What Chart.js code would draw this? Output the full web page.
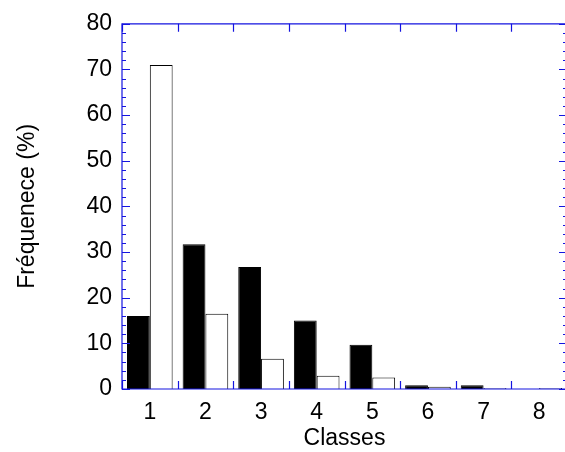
<!DOCTYPE html>
<html>
<head>
<meta charset="utf-8">
<script src="https://cdn.jsdelivr.net/npm/chart.js@4"></script>
<style>
  html, body { margin: 0; padding: 0; background: #fff; overflow: hidden; }
  #wrap { width: 568px; height: 452px; }
</style>
</head>
<body>
<div id="wrap"><canvas id="chart" width="568" height="452"></canvas></div>
<script>
// data
const classes = ['1', '2', '3', '4', '5', '6', '7', '8'];
const serieNoire = [16, 31.7, 26.7, 15, 9.7, 0.8, 0.8, 0];
const serieBlanche = [71, 16.5, 6.6, 2.9, 2.5, 0.5, 0.2, 0.2];
const yTicks = [0, 10, 20, 30, 40, 50, 60, 70, 80];

const BLUE = '#1414e0';
const FONT = "'Liberation Sans', Arial, sans-serif";

// frame + inward ticks, like the original plot
const framePlugin = {
  id: 'frame',
  afterDraw(chart) {
    const c = chart.ctx;
    const a = chart.chartArea;
    const x = chart.scales.x, y = chart.scales.y;
    c.save();
    c.strokeStyle = BLUE;
    c.lineWidth = 1.2;
    c.beginPath();
    c.rect(a.left, a.top, a.right - a.left, a.bottom - a.top);
    c.stroke();
    // y ticks every 2, major every 10
    for (let v = 0; v <= 80; v += 2) {
      const py = Math.round(y.getPixelForValue(v)) + 0.5;
      const len = v % 10 === 0 ? 8 : 4;
      c.beginPath();
      c.moveTo(a.left, py); c.lineTo(a.left + len, py);
      c.moveTo(a.right, py); c.lineTo(a.right - len, py);
      c.stroke();
    }
    // x ticks on category boundaries
    for (let i = 0; i <= classes.length; i++) {
      const px = Math.round(x.getPixelForValue(i - 0.5)) + 0.5;
      c.beginPath();
      c.moveTo(px, a.bottom); c.lineTo(px, a.bottom - 8);
      c.moveTo(px, a.top); c.lineTo(px, a.top + 8);
      c.stroke();
    }
    c.restore();
  }
};

new Chart(document.getElementById('chart'), {
  type: 'bar',
  data: {
    labels: classes,
    datasets: [{
      data: serieNoire,
      backgroundColor: '#000',
      borderColor: '#000',
      borderWidth: 1
    }, {
      data: serieBlanche,
      backgroundColor: '#fff',
      borderColor: '#000',
      borderWidth: 1
    }]
  },
  options: {
    responsive: false,
    animation: false,
    events: [],
    layout: { padding: { top: 16, right: 1, left: 0, bottom: 0 } },
    datasets: { bar: { categoryPercentage: 0.82, barPercentage: 1.0 } },
    plugins: { legend: { display: false }, tooltip: { enabled: false } },
    scales: {
      x: {
        grid: { display: false, drawTicks: false },
        border: { display: false },
        ticks: { color: '#000', font: { family: FONT, size: 23 }, padding: 10 },
        title: { display: true, text: 'Classes', color: '#000', font: { family: FONT, size: 23 }, padding: { top: -6, bottom: 0 } },
        afterFit(s) { s.height = 63; }
      },
      y: {
        min: 0,
        max: 80,
        afterBuildTicks(s) { s.ticks = yTicks.map(v => ({ value: v })); },
        grid: { display: false, drawTicks: false },
        border: { display: false },
        ticks: { color: '#000', font: { family: FONT, size: 23 }, padding: 10 },
        title: { display: true, text: 'Fréquenece (%)', color: '#000', font: { family: FONT, size: 23 }, padding: { top: 14, bottom: 0 } },
        afterFit(s) { s.width = 122; }
      }
    }
  },
  plugins: [framePlugin]
});
</script>
</body>
</html>
